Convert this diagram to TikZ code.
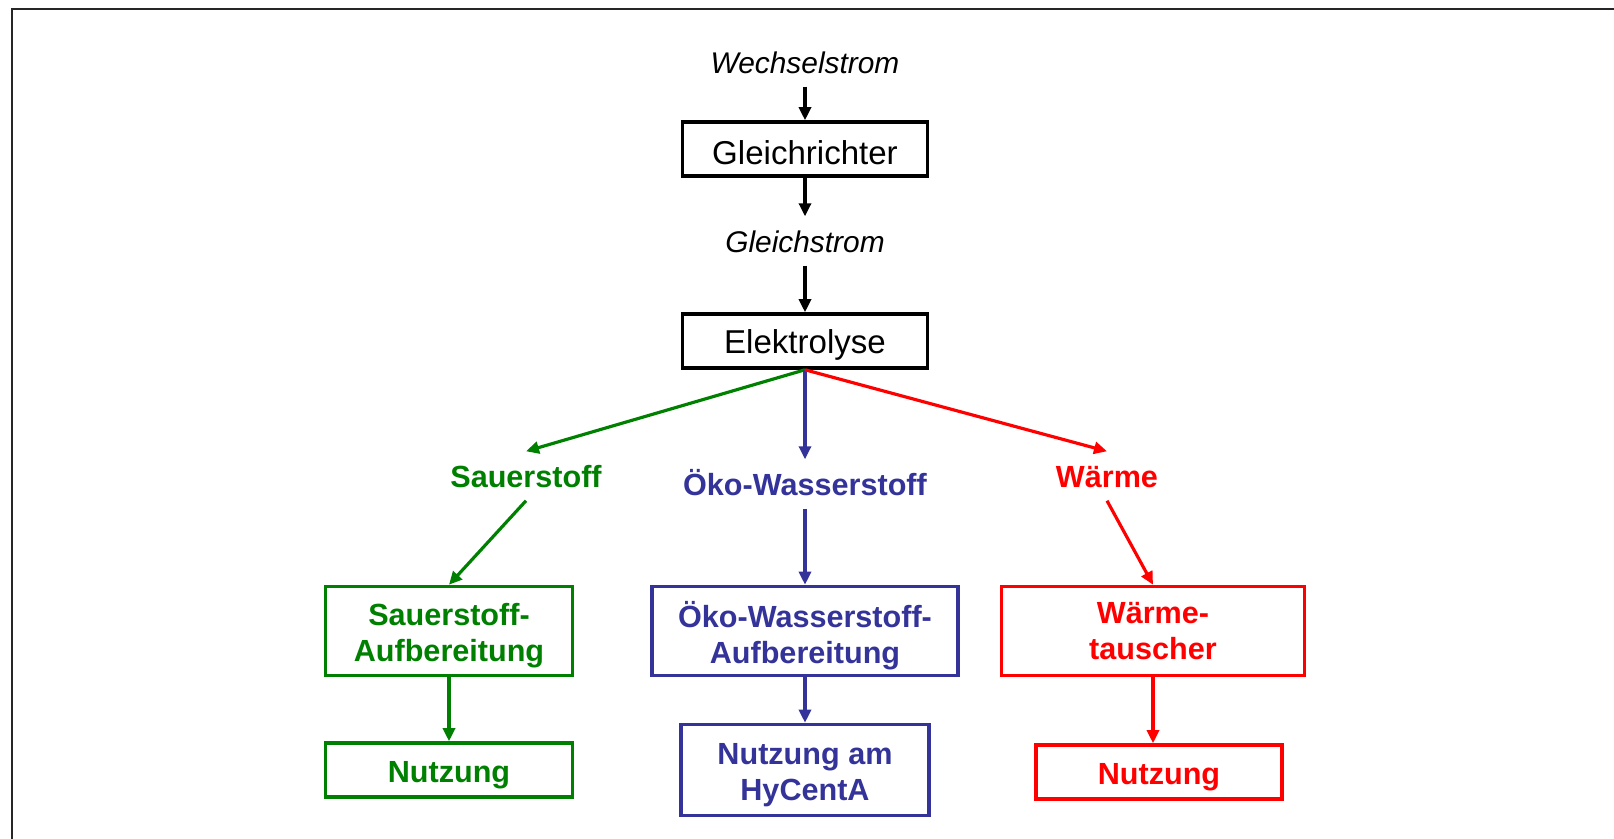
\documentclass[tikz,border=0pt]{standalone}
\usepackage{fontspec}
\setmainfont{Liberation Sans}
\usetikzlibrary{arrows.meta}
\definecolor{sgreen}{RGB}{0,128,0}
\definecolor{hblue}{RGB}{51,51,153}
\definecolor{wred}{RGB}{255,0,0}
\newcommand{\boxstrut}[1][8.8pt]{\rule{0pt}{#1}}

\begin{document}
\begin{tikzpicture}[x=0.01cm,y=-0.01cm,
  box/.style={draw,line width=1pt,minimum width=2.45cm,minimum height=0.54cm,
    inner sep=0pt,align=center,font=\fontsize{9.4}{11}\selectfont,
    execute at begin node={\boxstrut}},
  cbox/.style={box,line width=1pt,font=\fontsize{8.7}{10.3}\selectfont\bfseries},
  lab/.style={inner sep=0pt,minimum height=0.48cm,text height=0.22cm,text depth=0pt},
  flowlab/.style={lab,font=\fontsize{8.5}{10}\selectfont\itshape},
  gaslab/.style={lab,font=\fontsize{8.7}{10}\selectfont\bfseries},
  arr/.style={-{Triangle[length=1.3mm,width=1.2mm]},line width=0.9pt}]
  \useasboundingbox (0,0) rectangle (1614,839);

  % Frame
  \draw[line width=0.8pt,black!85] (12,839) -- (12,9) -- (1614,9);

  % Power supply
  \node[flowlab] (wechsel) at (805,62) {Wechselstrom};
  \node[box] (gr) at (805,149) {Gleichrichter};
  \node[flowlab] (gleich) at (805,241) {Gleichstrom};
  \node[box] (el) at (805,341) {Elektrolyse};

  \draw[arr] (wechsel) -- (gr);
  \draw[arr] (gr) -- (gleich);
  \draw[arr] (gleich) -- (el);

  % Products
  \node[gaslab,text=sgreen] (sauer) at (526,476) {Sauerstoff};
  \node[gaslab,text=hblue] (oeko) at (805,484) {Öko-Wasserstoff};
  \node[gaslab,text=wred] (waerme) at (1107,476) {Wärme};

  \draw[arr,sgreen] (el.south) -- (sauer.north);
  \draw[arr,hblue] (el.south) -- (oeko.north);
  \draw[arr,wred] (el.south) -- (waerme.north);

  % Treatment
  \node[cbox,draw=sgreen,text=sgreen,minimum width=2.47cm,minimum height=0.89cm]
    (sauerauf) at (449,631) {\boxstrut Sauerstoff-\\Aufbereitung};
  \node[cbox,draw=hblue,text=hblue,minimum width=3.06cm,minimum height=0.89cm]
    (oekoauf) at (805,631) {\boxstrut[10.1pt]Öko-Wasserstoff-\\Aufbereitung};
  \node[cbox,draw=wred,text=wred,minimum width=3.03cm,minimum height=0.89cm]
    (tauscher) at (1153,631) {Wärme-\\tauscher};

  \draw[arr,sgreen] (sauer.south) -- (sauerauf.north);
  \draw[arr,hblue] (oeko.south) -- (oekoauf.north);
  \draw[arr,wred] (waerme.south) -- (tauscher.north);

  % Use
  \node[cbox,draw=sgreen,text=sgreen,minimum width=2.47cm] (gnutz) at (449,770) {Nutzung};
  \node[cbox,draw=hblue,text=hblue,minimum width=2.48cm,minimum height=0.91cm]
    (hycenta) at (805,770) {\boxstrut Nutzung am\\HyCentA};
  \node[cbox,draw=wred,text=wred,minimum width=2.46cm] (rnutz) at (1159,772) {Nutzung};

  \draw[arr,sgreen] (sauerauf) -- (gnutz);
  \draw[arr,hblue] (oekoauf) -- (hycenta);
  \draw[arr,wred] (tauscher.south) -- (tauscher.south |- rnutz.north);
\end{tikzpicture}
\end{document}
